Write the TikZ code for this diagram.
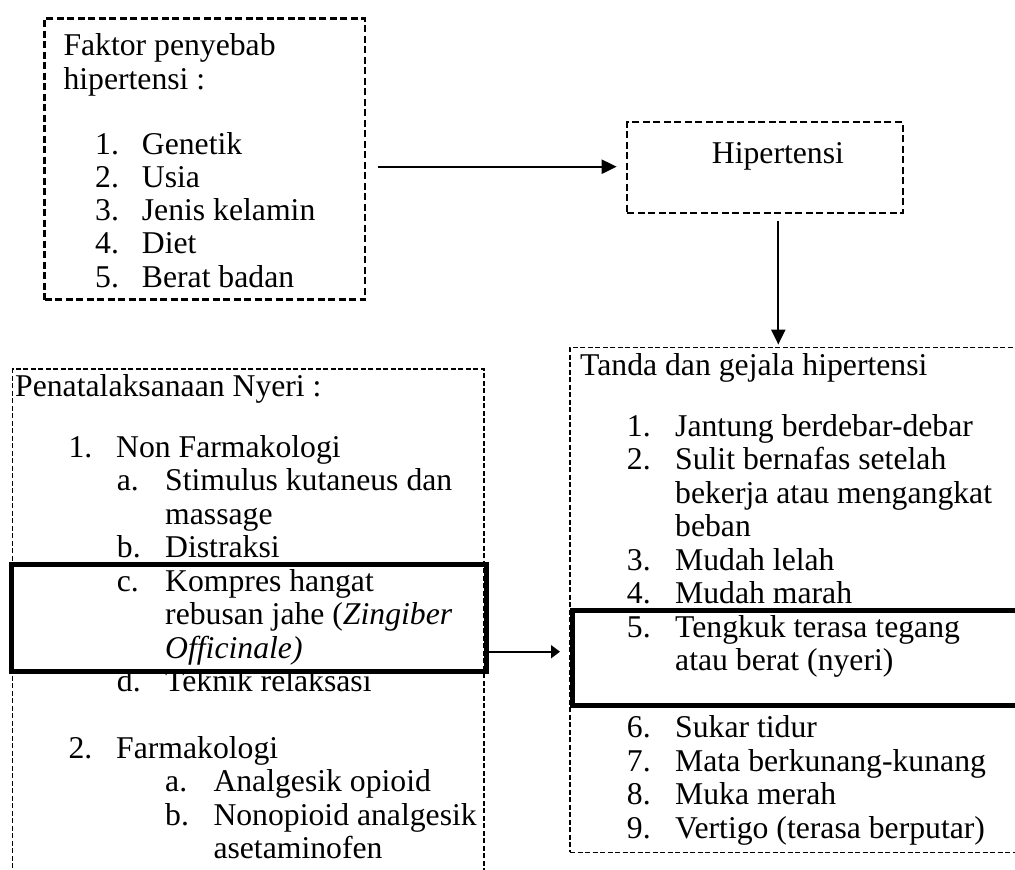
\documentclass[tikz,border=0pt]{standalone}
\usepackage{fontspec}
\setmainfont{Liberation Serif}
\usetikzlibrary{arrows.meta}
\begin{document}
\begin{tikzpicture}[x=1pt,y=-1pt,
  dbox/.style={draw, dash pattern=on 7pt off 3.5pt, line width=2.4pt, inner sep=0pt, anchor=north west},
  dboxthin/.style={draw, dash pattern=on 5pt off 2.5pt, line width=1.7pt, inner sep=0pt, anchor=north west},
  tbox/.style={draw, line width=5pt, inner sep=0pt, anchor=north west},
  txt/.style={anchor=base west, inner sep=0pt, font=\fontsize{31.7}{33}\selectfont},
  arr/.style={line width=2.2pt, -{Triangle[length=15pt,width=14pt]}},
  arrs/.style={line width=1.8pt, -{Triangle[length=9pt,width=13pt]}},
]
\useasboundingbox (0,0) rectangle (1015,870);
\clip (0,0) rectangle (1015,870);

% dashed boxes
\node[dbox, minimum width=320.7pt, minimum height=281pt] (faktor) at (43.3,17.3) {};
\node[dbox, minimum width=275.7pt, minimum height=90.7pt] (hip) at (626,121) {};
\node[dboxthin, minimum width=471.6pt, minimum height=520pt] (penat) at (11.7,368.3) {};
\node[dboxthin, minimum width=520pt, minimum height=505pt] (tanda) at (569.3,346.5) {};

% Faktor text
\node[txt] (f0) at (63.3,55) {Faktor penyebab};
\node[txt] (f1) at (63.3,89) {hipertensi :};
\foreach [count=\i] \t in {Genetik, Usia, Jenis kelamin, Diet, Berat badan} {
  \node[txt] (fn\i) at (95,{154+33.3*(\i-1)}) {\i.};
  \node[txt] (ft\i) at (141.7,{154+33.3*(\i-1)}) {\t};
}

% Hipertensi
\node[txt] (hipt) at (711.7,163.3) {Hipertensi};

% Tanda text
\node[txt] (t0) at (580,375.5) {Tanda dan gejala hipertensi};
\foreach \k/\n/\t in {0/1./Jantung berdebar-debar, 1/2./Sulit bernafas setelah, 2//bekerja atau mengangkat, 3//beban, 4/3./Mudah lelah, 5/4./Mudah marah, 6/5./Tengkuk terasa tegang, 7//atau berat (nyeri), 9/6./Sukar tidur, 10/7./Mata berkunang-kunang, 11/8./Muka merah, 12/9./Vertigo (terasa berputar)} {
  \node[txt] (tn\k) at (626.7,{436+33.5*\k}) {\n};
  \node[txt] (tt\k) at (675,{436+33.5*\k}) {\t};
}

% Penatalaksanaan text
\node[txt] (p0) at (15,396) {Penatalaksanaan Nyeri :};
\foreach \k/\xa/\n/\xb/\t in {0/68.3/1./116/Non Farmakologi, 1/116.7/a./165/Stimulus kutaneus dan, 2/116.7//165/massage, 3/116.7/b./165/Distraksi, 4/116.7/c./165/Kompres hangat, 5/116.7//165/{rebusan jahe (\textit{Zingiber}}, 6/116.7//165/{\textit{Officinale)}}, 7/116.7/d./165/Teknik relaksasi, 9/68.3/2./116/Farmakologi, 10/165/a./213.3/Analgesik opioid, 11/165/b./213.3/Nonopioid analgesik, 12/165//213.3/asetaminofen} {
  \node[txt] (pn\k) at (\xa,{457.3+33.45*\k}) {\n};
  \node[txt] (pt\k) at (\xb,{457.3+33.45*\k}) {\t};
}

% thick highlight boxes
\node[tbox, minimum width=474.7pt, minimum height=107.6pt] (thickL) at (9.3,561.7) {};
\node[tbox, minimum width=520pt, minimum height=94.7pt] (thickR) at (570,608.3) {};

% connectors
\coordinate (a1s) at (378.3,166.7);
\draw[arr, shorten >=9.3pt] (a1s) -- (a1s -| hip.west);
\coordinate (a2s) at (778.3,220.7);
\draw[arr, shorten >=2pt] (a2s) -- (a2s |- tanda.north);
\coordinate (a3s) at (488.3,651.7);
\draw[arrs, shorten >=10pt] (a3s) -- (a3s -| thickR.west);
\end{tikzpicture}
\end{document}
